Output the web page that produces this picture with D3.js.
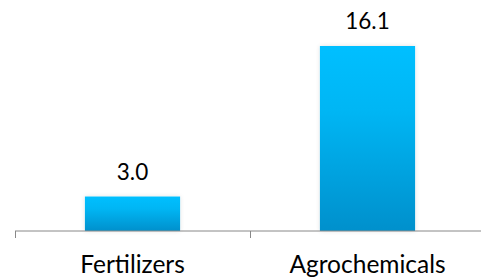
<!DOCTYPE html>
<html>
<head>
<meta charset="utf-8">
<script src="https://cdn.jsdelivr.net/npm/d3@7"></script>
<style>
  html,body{margin:0;padding:0;background:#fff;}
  svg{display:block;font-family:Lato,"Open Sans",sans-serif;}
</style>
</head>
<body>
<svg id="chart" width="481" height="280"></svg>
<script>
// ── data ──
const CATEGORIES=["Fertilizers","Agrochemicals"];
const VALUES=[3.0,16.1];
const LABELS=["3.0","16.1"];

const W=481,H=280;
const m={left:15,right:-4,base:231};
const svg=d3.select("#chart");

const x=d3.scaleBand().domain(CATEGORIES).range([m.left,W-m.right]).paddingInner(0).paddingOuter(0);
const y=d3.scaleLinear().domain([0,16.1]).range([m.base,46]);

const defs=svg.append("defs");
const gr=defs.append("linearGradient").attr("id","barGrad").attr("x1",0).attr("y1",0).attr("x2",0).attr("y2",1);
gr.append("stop").attr("offset","0%").attr("stop-color","#00bfff");
gr.append("stop").attr("offset","35%").attr("stop-color","#00b6f4");
gr.append("stop").attr("offset","100%").attr("stop-color","#0090cc");
const sh=defs.append("filter").attr("id","glow").attr("x","-20%").attr("y","-20%").attr("width","140%").attr("height","140%");
sh.append("feDropShadow").attr("dx",0).attr("dy",0).attr("stdDeviation",2).attr("flood-color","#000").attr("flood-opacity",0.12);

const bw=x.bandwidth()*0.405;
svg.append("g").selectAll("rect").data(VALUES).join("rect")
  .attr("x",(d,i)=>x(CATEGORIES[i])+x.bandwidth()/2-bw/2)
  .attr("y",d=>y(d)).attr("width",bw).attr("height",d=>m.base-y(d))
  .attr("fill","url(#barGrad)").attr("filter","url(#glow)");

// value labels
svg.append("g").selectAll("text").data(VALUES).join("text")
  .attr("x",(d,i)=>x(CATEGORIES[i])+x.bandwidth()/2)
  .attr("y",d=>y(d)-17).attr("text-anchor","middle")
  .attr("font-size",22.5).attr("fill","#000").text((d,i)=>LABELS[i]);

// axis
const ax=svg.append("g").attr("transform",`translate(0,${m.base})`)
  .call(d3.axisBottom(x).tickSize(0).tickFormat(""));
ax.select(".domain").attr("stroke","#888").attr("d",`M${m.left},0H${W}`);
const edges=[m.left,...CATEGORIES.slice(1).map(c=>x(c)),x.range()[1]];
ax.selectAll(".edge").data(edges).join("line").attr("class","edge")
  .attr("x1",d=>d+0.5).attr("x2",d=>d+0.5).attr("y1",0).attr("y2",7).attr("stroke","#888");
svg.append("g").selectAll("text").data(CATEGORIES).join("text")
  .attr("x",d=>x(d)+x.bandwidth()/2).attr("y",273).attr("text-anchor","middle")
  .attr("font-size",24.5).attr("fill","#000").text(d=>d);
</script>
</body>
</html>
